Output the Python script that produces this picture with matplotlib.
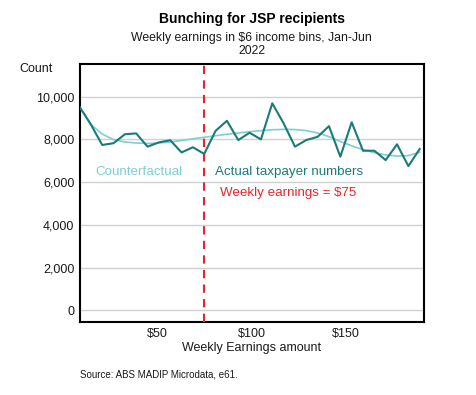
import matplotlib
matplotlib.use("Agg")
import matplotlib.pyplot as plt
from matplotlib.ticker import FuncFormatter

plt.rcParams["font.family"] = ["Liberation Sans", "DejaVu Sans"]

# bin midpoints ($6 bins)
earnings = list(range(9, 190, 6))

actual = [9530, 8700, 7740, 7820, 8240, 8280, 7660, 7860, 7960, 7390, 7630,
          7320, 8400, 8870, 7970, 8310, 8000, 9690, 8750, 7660, 7970, 8120,
          8620, 7190, 8800, 7470, 7470, 7030, 7770, 6750, 7550]

counterfactual = [9530, 8700, 8250, 7990, 7880, 7830, 7810, 7830, 7880, 7950,
                  8030, 8100, 8170, 8240, 8300, 8360, 8410, 8450, 8470, 8460,
                  8410, 8300, 8130, 7900, 7700, 7520, 7380, 7270, 7220, 7240,
                  7400]

threshold = 75
yticks = [0, 2000, 4000, 6000, 8000, 10000]
xticks = [50, 100, 150]

dark_teal = "#1b7b78"
light_teal = "#7ccfd3"
red = "#e5262c"

fig = plt.figure(figsize=(4.77, 3.95), dpi=100)
ax = fig.add_axes([0.1677, 0.1848, 0.7213, 0.6532])

ax.plot(earnings, counterfactual, color=light_teal, lw=1.2, zorder=3)
ax.plot(earnings, actual, color=dark_teal, lw=1.5, zorder=4)
ax.axvline(threshold, color=red, lw=1.5, ls=(0, (4, 3)), zorder=5)

ax.set_xlim(9.26, 191.3)
ax.set_ylim(-550, 11530)
ax.set_yticks(yticks)
ax.set_xticks(xticks)
ax.yaxis.set_major_formatter(FuncFormatter(lambda v, p: f"{int(v):,}"))
ax.xaxis.set_major_formatter(FuncFormatter(lambda v, p: f"${int(v)}"))
ax.tick_params(length=0, labelsize=9, pad=4, colors="#1a1a1a")
ax.grid(axis="y", color="#d0d0d0", lw=1)
ax.set_axisbelow(True)
for s in ax.spines.values():
    s.set_linewidth(1.5)
    s.set_color("black")

# annotations inside the plot
ax.text(17.2, 6470, "Counterfactual", color=light_teal, fontsize=9.6, va="center")
ax.text(80.7, 6470, "Actual taxpayer numbers", color=dark_teal, fontsize=9.6, va="center")
ax.text(83.3, 5490, "Weekly earnings = $75", color=red, fontsize=9.6, va="center")

ax.set_xlabel("Weekly Earnings amount", fontsize=9, labelpad=2, color="#1a1a1a")

fig.text(0.528, 0.952, "Bunching for JSP recipients", fontsize=10, fontweight="bold",
         ha="center", va="center")
fig.text(0.528, 0.904, "Weekly earnings in $6 income bins, Jan-Jun", fontsize=8.8,
         ha="center", va="center", color="#1a1a1a")
fig.text(0.528, 0.871, "2022", fontsize=8.8, ha="center", va="center", color="#1a1a1a")
fig.text(0.075, 0.826, "Count", fontsize=9, ha="center", va="center", color="#1a1a1a")
fig.text(0.168, 0.052, "Source: ABS MADIP Microdata, e61.", fontsize=7, ha="left",
         va="center", color="#1a1a1a")

fig.savefig("out.png", dpi=100)
